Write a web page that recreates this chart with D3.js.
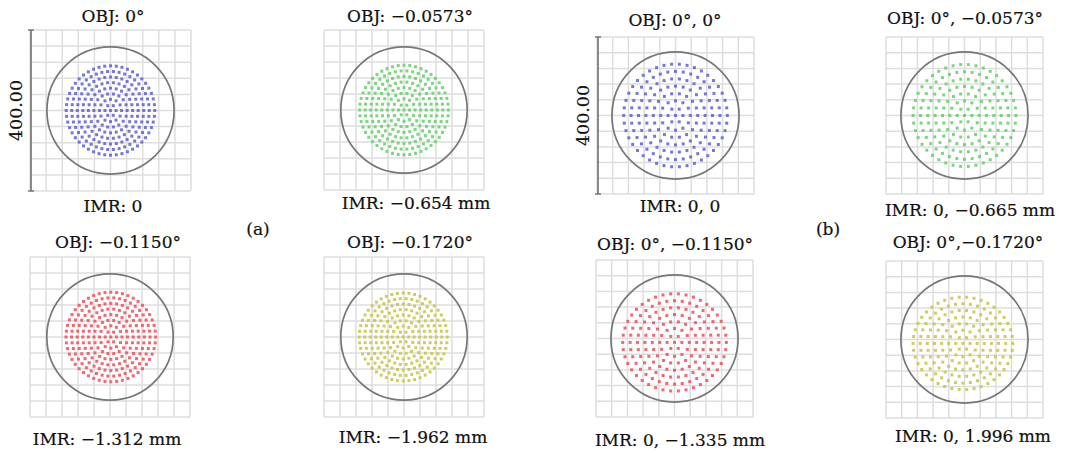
<!DOCTYPE html>
<html>
<head>
<meta charset="utf-8">
<script src="https://cdn.jsdelivr.net/npm/d3@7"></script>
<style>
  body { margin: 0; background: #fff; }
  text { font-family: "DejaVu Serif", "Liberation Serif", serif; fill: #111; stroke: #111; stroke-width: 0.2px; }
</style>
</head>
<body>
<div id="spots"></div>
<script>
// spot diagram values (um), one entry per panel
var titles = ["OBJ: 0°", "OBJ: −0.0573°", "OBJ: 0°, 0°", "OBJ: 0°, −0.0573°",
              "OBJ: −0.1150°", "OBJ: −0.1720°", "OBJ: 0°, −0.1150°", "OBJ: 0°,−0.1720°"];
var imrLabels = ["IMR: 0", "IMR: −0.654 mm", "IMR: 0, 0", "IMR: 0, −0.665 mm",
                 "IMR: −1.312 mm", "IMR: −1.962 mm", "IMR: 0, −1.335 mm", "IMR: 0, 1.996 mm"];
var spotRx = [110, 111, 132, 131, 112, 110, 132, 127];
var spotRy = [111, 112, 131, 130, 112, 110, 124, 118];
var spotDx = [0, 0, 0, 0, 2, -2, 0, -4];
var spotDy = [0, 0, 0, 0, 0, 0, -10, -10];
var rings = [8, 8, 7, 7, 8, 8, 7, 7];
var airyR = [158, 158, 162, 162, 158, 158, 162, 162];
var fieldColor = ["#5a60d4", "#64d068", "#f04c58", "#c6c644"];
var field = [0, 1, 0, 1, 2, 3, 2, 3];
var gridTicks = [-200, -160, -120, -80, -40, 0, 40, 80, 120, 160, 200];
var scaleBarLabel = "400.00";
var subLabels = ["(a)", "(b)"];

// panel placement
var layout = [
  { x: 30,  y: 30,  s: 161, tx: 113, ty: 22,  ix: 113, iy: 212, bar: true },
  { x: 324, y: 30,  s: 160, tx: 410, ty: 22,  ix: 416, iy: 209 },
  { x: 597, y: 37,  s: 157, tx: 675, ty: 26,  ix: 680, iy: 212, bar: true },
  { x: 886, y: 37,  s: 157, tx: 965, ty: 24,  ix: 970, iy: 216 },
  { x: 30,  y: 257, s: 160, tx: 118, ty: 248, ix: 107, iy: 445 },
  { x: 324, y: 257, s: 160, tx: 410, ty: 248, ix: 413, iy: 443 },
  { x: 596, y: 260, s: 157, tx: 675, ty: 250, ix: 680, iy: 446 },
  { x: 886, y: 261, s: 157, tx: 968, ty: 248, ix: 973, iy: 442 }
];
var subPos = [{ x: 258, y: 235 }, { x: 828, y: 235 }];

var W = 1077, H = 453;
var svg = d3.select("#spots").append("svg")
    .attr("width", W)
    .attr("height", H);

// hexapolar ray pattern on the unit pupil
function hexapolar(n) {
    var pts = [[0, 0]];
    for (var k = 1; k <= n; k++) {
        for (var j = 0; j < 6 * k; j++) {
            var a = 2 * Math.PI * j / (6 * k);
            pts.push([k / n * Math.cos(a), k / n * Math.sin(a)]);
        }
    }
    return pts;
}

function label(g, x, y, s) {
    g.append("text")
        .attr("x", x).attr("y", y)
        .attr("text-anchor", "middle")
        .style("font-size", "17px")
        .text(s);
}

layout.forEach(function (p, i) {
    var x = d3.scaleLinear().domain([-200, 200]).range([p.x, p.x + p.s]);
    var y = d3.scaleLinear().domain([200, -200]).range([p.y, p.y + p.s]);
    var g = svg.append("g");

    g.selectAll(".vg").data(gridTicks).enter().append("line")
        .attr("x1", function (d) { return x(d) }).attr("x2", function (d) { return x(d) })
        .attr("y1", y(200)).attr("y2", y(-200))
        .style("stroke", "#dedede").style("stroke-width", 1.5);
    g.selectAll(".hg").data(gridTicks).enter().append("line")
        .attr("y1", function (d) { return y(d) }).attr("y2", function (d) { return y(d) })
        .attr("x1", x(-200)).attr("x2", x(200))
        .style("stroke", "#dedede").style("stroke-width", 1.5);

    g.append("ellipse")
        .attr("cx", x(0)).attr("cy", y(0))
        .attr("rx", x(airyR[i]) - x(0)).attr("ry", y(0) - y(airyR[i]))
        .style("fill", "none").style("stroke", "#777").style("stroke-width", 1.7);

    g.selectAll(".ray").data(hexapolar(rings[i])).enter().append("rect")
        .attr("x", function (d) { return x(spotDx[i] + d[0] * spotRx[i]) - 1.5 })
        .attr("y", function (d) { return y(spotDy[i] + d[1] * spotRy[i]) - 1.5 })
        .attr("width", 3).attr("height", 3)
        .style("fill", fieldColor[field[i]])
        .style("opacity", 0.85);

    if (p.bar) {
        var bx = x(-200) + 1;
        g.append("line").attr("x1", bx).attr("x2", bx).attr("y1", y(200)).attr("y2", y(-200))
            .style("stroke", "#777").style("stroke-width", 1.7);
        [200, -200].forEach(function (v) {
            g.append("line").attr("x1", bx - 3).attr("x2", bx + 3).attr("y1", y(v)).attr("y2", y(v))
                .style("stroke", "#777").style("stroke-width", 1.5);
        });
        g.append("text")
            .attr("transform", "translate(" + (bx - 9) + "," + y(0) + ") rotate(-90)")
            .attr("text-anchor", "middle")
            .style("font-size", "17.5px")
            .text(scaleBarLabel);
    }

    label(g, p.tx, p.ty, titles[i]);
    label(g, p.ix, p.iy, imrLabels[i]);
});

subLabels.forEach(function (s, i) { label(svg, subPos[i].x, subPos[i].y, s); });
</script>
</body>
</html>
